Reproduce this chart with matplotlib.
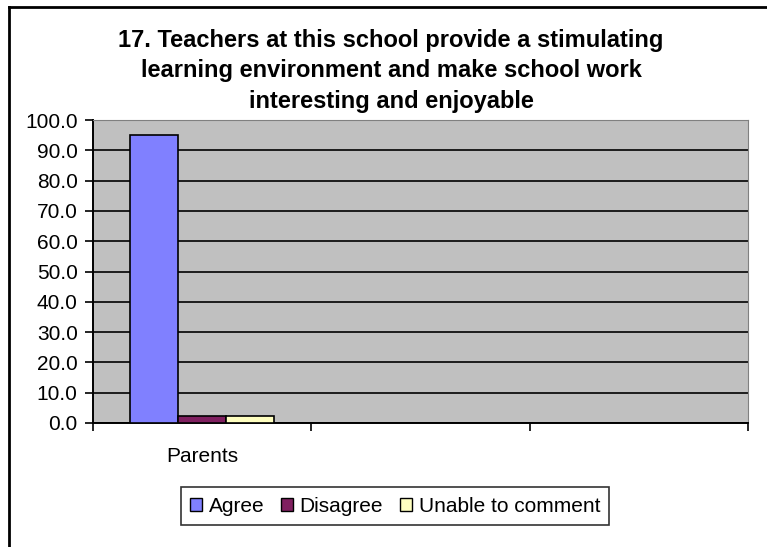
import numpy as np
import matplotlib
matplotlib.use('Agg')
import matplotlib.pyplot as plt
from matplotlib.patches import Patch

plt.rcParams['font.family'] = ['Liberation Sans', 'DejaVu Sans']

# data
categories = ['Parents', '', '']
series_names = ['Agree', 'Disagree', 'Unable to comment']
agree = [95.1, np.nan, np.nan]
disagree = [2.4, np.nan, np.nan]
unable = [2.4, np.nan, np.nan]
series_colors = ['#8080FF', '#802060', '#FFFFC0']
yticks = np.arange(0, 101, 10)

fig = plt.figure(figsize=(7.67, 5.47), dpi=100)
ax = fig.add_axes([93/767, 1 - 423/547, (748 - 93)/767, (423 - 120)/547])
ax.set_facecolor('#C0C0C0')

x = np.arange(1, len(categories) + 1)
w = 0.22
for i, (vals, col) in enumerate(zip([agree, disagree, unable], series_colors)):
    ax.bar(x + (i - 1) * w, vals, w, color=col, edgecolor='black', linewidth=1.2, zorder=3)

ax.set_ylim(0, 100)
ax.set_xlim(0.5, len(categories) + 0.5)
ax.set_yticks(yticks)
ax.set_yticklabels(['%.1f' % v for v in yticks], fontsize=15)
ax.yaxis.grid(True, color='black', linewidth=1.2, zorder=1)

# category ticks on the boundaries, labels in between
ax.set_xticks(np.arange(0.5, len(categories) + 1, 1))
ax.set_xticklabels([])
ax.set_xticks(x, minor=True)
ax.set_xticklabels(categories, minor=True, fontsize=15)
ax.tick_params(axis='x', which='minor', length=0, pad=17)
ax.tick_params(axis='x', which='major', length=6, width=1.2, direction='out')
ax.tick_params(axis='y', length=6, width=1.2, direction='out', pad=5)

for s in ['top', 'right']:
    ax.spines[s].set_color('#808080')
for s in ['left', 'bottom']:
    ax.spines[s].set_color('black')
    ax.spines[s].set_linewidth(1.4)

fig.text(391/767, 1 - 71/547,
         '17. Teachers at this school provide a stimulating\nlearning environment and make school work\ninteresting and enjoyable',
         ha='center', va='center', fontsize=17, fontweight='bold', linespacing=1.42)

handles = [Patch(facecolor=c, edgecolor='black', linewidth=1) for c in series_colors]
leg = fig.legend(handles, series_names, loc='center', bbox_to_anchor=(395/767, 1 - 506/547),
                 ncol=3, frameon=True, fancybox=False, fontsize=15,
                 handlelength=0.6, handleheight=0.6, handletextpad=0.3, columnspacing=0.8,
                 borderpad=0.45, borderaxespad=0)
leg.get_frame().set_edgecolor('black')
leg.get_frame().set_linewidth(1.2)

# outer chart frame (only top and left visible in the reference)
fig.add_artist(plt.Line2D([9/767, 9/767], [0, 1 - 7/547], transform=fig.transFigure, color='black', linewidth=2))
fig.add_artist(plt.Line2D([9/767, 1], [1 - 7/547, 1 - 7/547], transform=fig.transFigure, color='black', linewidth=2))

fig.savefig('out.png', dpi=100)
